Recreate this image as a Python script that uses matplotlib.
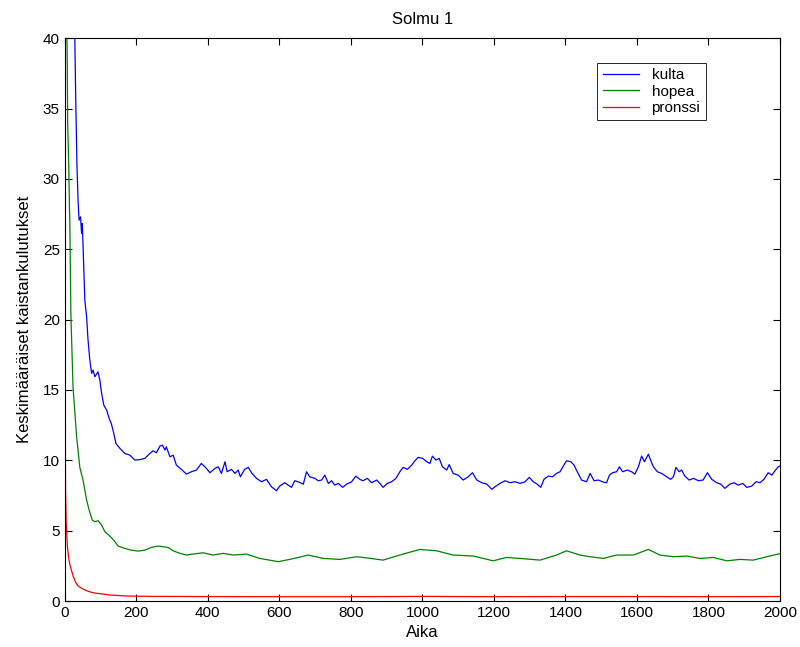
import numpy as np
import matplotlib.pyplot as plt

plt.rcParams['font.family'] = ['Liberation Sans', 'DejaVu Sans']

# values (time, mean bandwidth)
t_kulta = [1, 15, 28, 31, 34, 37, 40, 44, 47, 49, 53, 56, 61, 65, 70, 75, 79, 84, 93, 98, 103,
           109, 117, 124, 130, 137, 143, 154, 168, 182, 196, 210, 224, 238, 247, 256, 266, 273,
           280, 284, 294, 303, 312, 326, 340, 354, 368, 382, 392, 406, 420, 429, 438, 448, 454,
           466, 476, 485, 491, 503, 513, 522, 536, 550, 564, 578, 592, 601, 615, 625, 634, 643,
           655, 667, 676, 685, 699, 709, 718, 727, 737, 746, 755, 765, 777, 788, 802, 814, 825,
           834, 846, 858, 872, 881, 890, 902, 914, 926, 937, 946, 958, 970, 979, 988, 1001, 1012,
           1021, 1028, 1038, 1047, 1056, 1068, 1075, 1086, 1100, 1114, 1128, 1140, 1152, 1166,
           1180, 1194, 1203, 1217, 1231, 1245, 1259, 1273, 1287, 1299, 1310, 1321, 1331, 1340,
           1352, 1364, 1375, 1385, 1394, 1403, 1415, 1424, 1433, 1445, 1459, 1469, 1480, 1492,
           1506, 1515, 1523, 1532, 1543, 1551, 1560, 1573, 1585, 1594, 1604, 1613, 1621, 1632,
           1638, 1646, 1657, 1669, 1683, 1694, 1702, 1709, 1718, 1725, 1734, 1746, 1758, 1772,
           1785, 1797, 1809, 1823, 1834, 1846, 1860, 1871, 1883, 1896, 1907, 1921, 1933, 1944,
           1955, 1967, 1977, 1986, 1995, 2000]
y_kulta = [60.0, 48.0, 40.0, 35.0, 31.0, 28.5, 27.07, 27.3, 26.12, 26.83, 23.75, 21.39, 20.2,
           18.54, 17.12, 16.18, 16.41, 15.94, 16.29, 15.7, 14.76, 13.93, 13.57, 12.98, 12.62,
           11.91, 11.2, 10.85, 10.49, 10.37, 10.02, 10.05, 10.14, 10.49, 10.68, 10.54, 11.01,
           11.08, 10.73, 10.96, 10.25, 10.37, 9.66, 9.36, 9.02, 9.19, 9.31, 9.78, 9.54, 9.12,
           9.43, 9.54, 9.07, 9.9, 9.19, 9.36, 9.07, 9.31, 8.83, 9.36, 9.5, 9.12, 8.72, 8.48, 8.65,
           8.12, 7.84, 8.17, 8.41, 8.24, 8.08, 8.55, 8.45, 8.31, 9.19, 8.83, 8.72, 8.55, 8.6, 8.95,
           8.36, 8.55, 8.24, 8.36, 8.08, 8.31, 8.48, 8.88, 8.65, 8.55, 8.72, 8.41, 8.6, 8.36, 8.08,
           8.36, 8.48, 8.72, 9.19, 9.5, 9.36, 9.66, 9.97, 10.21, 10.14, 9.9, 9.78, 10.3, 10.02,
           10.14, 9.54, 9.31, 9.7, 9.07, 8.95, 8.6, 8.83, 9.12, 8.6, 8.41, 8.31, 7.94, 8.12, 8.36,
           8.55, 8.41, 8.48, 8.36, 8.48, 8.79, 8.48, 8.31, 8.08, 8.65, 8.88, 8.83, 9.07, 9.19,
           9.59, 9.97, 9.9, 9.66, 9.19, 8.6, 8.48, 9.07, 8.55, 8.6, 8.45, 8.41, 8.95, 9.12, 9.19,
           9.54, 9.19, 9.31, 9.19, 9.02, 9.54, 10.3, 9.9, 10.44, 10.02, 9.54, 9.19, 9.07, 8.83,
           8.65, 8.83, 9.5, 9.19, 9.31, 8.88, 8.6, 8.72, 8.55, 8.6, 9.12, 8.65, 8.41, 8.31, 8.01,
           8.31, 8.41, 8.24, 8.36, 8.08, 8.17, 8.48, 8.41, 8.65, 9.12, 8.95, 9.26, 9.54, 9.6]

t_hopea = [1, 5, 7, 8, 11, 13, 14, 17, 23, 33, 42, 51, 61, 68, 77, 84, 93, 103, 112, 126, 137,
           149, 168, 186, 205, 224, 242, 261, 275, 289, 303, 322, 340, 359, 387, 415, 443, 471,
           508, 545, 597, 629, 681, 723, 769, 816, 850, 890, 946, 993, 1040, 1086, 1142, 1198,
           1235, 1273, 1329, 1375, 1403, 1441, 1469, 1506, 1543, 1590, 1632, 1664, 1702, 1739,
           1776, 1814, 1851, 1888, 1925, 1963, 1995, 2000]
y_hopea = [60.0, 42.0, 38.0, 34.0, 31.0, 28.0, 27.1, 20.4, 15.2, 11.7, 9.5, 8.6, 7.18, 6.47,
           5.75, 5.64, 5.71, 5.4, 4.93, 4.62, 4.33, 3.91, 3.74, 3.62, 3.55, 3.62, 3.81, 3.91,
           3.86, 3.81, 3.57, 3.39, 3.27, 3.34, 3.43, 3.27, 3.39, 3.27, 3.34, 3.03, 2.8, 2.96,
           3.27, 3.03, 2.96, 3.15, 3.05, 2.91, 3.34, 3.67, 3.57, 3.27, 3.2, 2.86, 3.1, 3.03, 2.91,
           3.27, 3.57, 3.27, 3.15, 3.03, 3.27, 3.27, 3.67, 3.27, 3.15, 3.2, 3.03, 3.1, 2.86, 2.96,
           2.91, 3.15, 3.34, 3.36]

t_pronssi = [0, 1, 2, 4, 7, 10, 14, 23, 30, 37, 51, 65, 79, 126, 172, 252, 400, 600, 800, 1000,
             1200, 1400, 1600, 1800, 2000]
y_pronssi = [45.0, 20.0, 8.0, 5.5, 4.0, 3.2, 2.6, 1.8, 1.35, 1.07, 0.85, 0.7, 0.59, 0.43, 0.36,
             0.33, 0.32, 0.31, 0.31, 0.33, 0.31, 0.32, 0.32, 0.31, 0.32]

fig = plt.figure(figsize=(8, 6.47), dpi=100)
ax = fig.add_axes([0.081, 0.071, 0.894, 0.870])

ax.plot(t_kulta, y_kulta, color=(0, 0, 1), lw=0.9, label='kulta')
ax.plot(t_hopea, y_hopea, color=(0, 0.5, 0), lw=0.9, label='hopea')
ax.plot(t_pronssi, y_pronssi, color=(1, 0, 0), lw=0.9, label='pronssi')

ax.set_xlim(0, 2000)
ax.set_ylim(0, 40)
ax.set_xticks(np.arange(0, 2001, 200))
ax.set_yticks(np.arange(0, 41, 5))
ax.tick_params(direction='in', top=True, right=True, labelsize=11, length=5)
for s in ax.spines.values():
    s.set_linewidth(0.8)

ax.set_title('Solmu 1', fontsize=12, pad=10)
ax.set_xlabel('Aika', fontsize=12, labelpad=4)
ax.set_ylabel('Keskimääräiset kaistankulutukset', fontsize=12, labelpad=8)

leg = ax.legend(loc='upper right', bbox_to_anchor=(0.896, 0.956), fontsize=11,
                fancybox=False, edgecolor='black', framealpha=1, handlelength=2.4,
                borderaxespad=0, labelspacing=0.15, borderpad=0.35)
leg.get_frame().set_linewidth(0.6)

fig.savefig('out.png', dpi=100)
